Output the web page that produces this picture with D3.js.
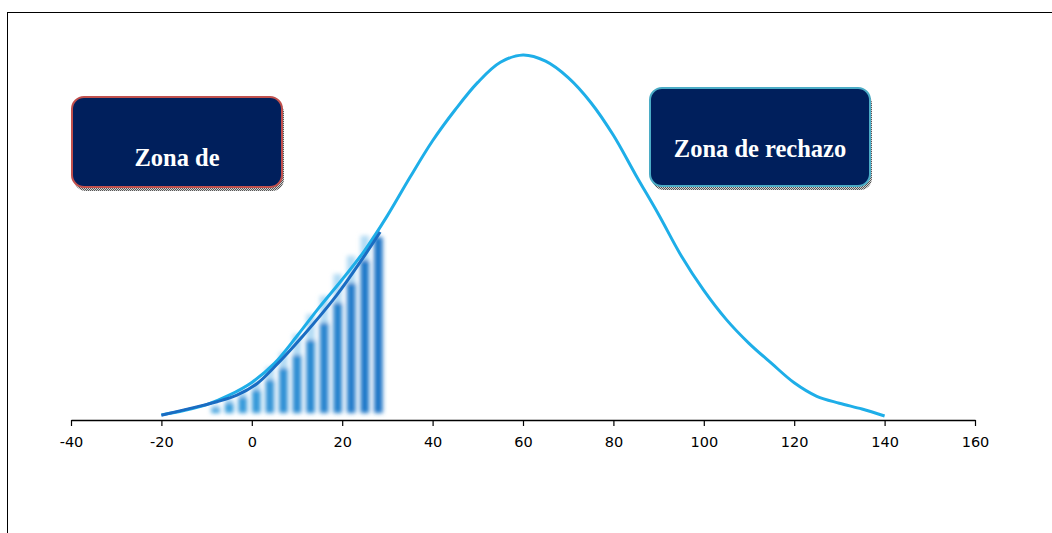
<!DOCTYPE html>
<html>
<head>
<meta charset="utf-8">
<script src="https://cdn.jsdelivr.net/npm/d3@7/dist/d3.min.js"></script>
<style>
  html, body { margin: 0; padding: 0; background: #fff; }
  svg { display: block; }
</style>
</head>
<body>
<svg id="chart" width="1052" height="533"></svg>
<script>
// ---- data ----
const xTicks = [-40, -20, 0, 20, 40, 60, 80, 100, 120, 140, 160];
const curveX = [-20, -15, -10, -5, 0, 5, 10, 15, 20, 25, 30, 35, 40, 45, 50, 55, 60, 65, 70, 75, 80, 85, 90, 95, 100, 105, 110, 115, 120, 125, 130, 135, 140];
const curveY = [1.4, 2.6, 4.2, 6.8, 10.3, 15.5, 23, 31, 38.5, 46.5, 56, 66.5, 76.5, 85, 92.5, 98, 100, 98.3, 93.8, 87, 78, 67, 56.3, 45, 35.5, 27.5, 21, 15.5, 10.2, 6.5, 4.6, 3, 1.1];
const darkX = [-20, -12.9, -7.7, -3.3, 1.2, 5, 11.3, 18.8, 24.6, 28.4];
const darkY = [1.3, 3.4, 5.0, 6.8, 10.0, 14.5, 23.0, 34.2, 44.4, 51.5];
const barX = [-8, -5, -2, 1, 4, 7, 10, 13, 16, 19, 22, 25, 28];
const barY = [3.3, 4.7, 6.3, 8.2, 11.0, 14.2, 17.8, 21.9, 26.6, 32.1, 37.5, 43.8, 50.1];
const barGhostY = [4.2, 5.8, 7.8, 10.5, 14.5, 18.5, 23.5, 29, 34, 40, 45, 50.5, 50.1];
const barBase = 1.9;
const boxLabels = ["Zona de", "Zona de rechazo"];

// ---- setup ----
const svg = d3.select("#chart");
const x = d3.scaleLinear().domain([-40, 160]).range([71, 975]);
const y = d3.scaleLinear().domain([0, 100]).range([420, 55]);

const defs = svg.append("defs");
defs.append("filter").attr("id", "blur").attr("x", "-50%").attr("y", "-10%").attr("width", "200%").attr("height", "120%")
  .append("feGaussianBlur").attr("stdDeviation", 1.9);
const pat = defs.append("pattern").attr("id", "dots").attr("width", 2).attr("height", 2).attr("patternUnits", "userSpaceOnUse");
pat.append("rect").attr("width", 2).attr("height", 2).attr("fill", "#d0d0d0");
pat.append("rect").attr("width", 1).attr("height", 1).attr("fill", "#555");
pat.append("rect").attr("x", 1).attr("y", 1).attr("width", 1).attr("height", 1).attr("fill", "#555");

// frame
svg.append("line").attr("x1", 7).attr("x2", 1052).attr("y1", 12.5).attr("y2", 12.5).attr("stroke", "#000").attr("stroke-width", 1);
svg.append("line").attr("x1", 7.5).attr("x2", 7.5).attr("y1", 12).attr("y2", 533).attr("stroke", "#000").attr("stroke-width", 1);

// bars
const bw = x(1.9) - x(0);
const barG = svg.append("g").attr("filter", "url(#blur)");
const colorScale = d3.scaleLinear().domain([0, barX.length - 1]).range(["#3aa2de", "#1b74c6"]);
barG.selectAll("rect.ghost").data(barX).join("rect").attr("class", "ghost")
  .attr("x", d => x(d) - bw / 2)
  .attr("width", bw)
  .attr("y", (d, i) => y(barGhostY[i]))
  .attr("height", (d, i) => y(barBase) - y(barGhostY[i]))
  .attr("fill", "#b3dbf4");
barG.selectAll("rect.bar").data(barX).join("rect").attr("class", "bar")
  .attr("x", d => x(d) - bw / 2)
  .attr("width", bw)
  .attr("y", (d, i) => y(barY[i]))
  .attr("height", (d, i) => y(barBase) - y(barY[i]))
  .attr("fill", (d, i) => colorScale(i));

// main curve
const line = d3.line().x(d => x(d[0])).y(d => y(d[1])).curve(d3.curveCatmullRom.alpha(0.5));
svg.append("path").datum(curveX.map((v, i) => [v, curveY[i]]))
  .attr("d", line).attr("fill", "none").attr("stroke", "#1eaee8").attr("stroke-width", 3);
// dark curve
svg.append("path").datum(darkX.map((v, i) => [v, darkY[i]]))
  .attr("d", line).attr("fill", "none").attr("stroke", "#1a6cc2").attr("stroke-width", 3);

// axis
const axis = d3.axisBottom(x).tickValues(xTicks).tickSize(6).tickSizeOuter(0).tickFormat(d3.format("d"));
const ag = svg.append("g").attr("transform", "translate(0,420)").call(axis);
ag.attr("font-size", null).attr("font-family", null);
ag.select(".domain").attr("stroke", "#000").attr("stroke-width", 1.6);
ag.selectAll(".tick line").attr("stroke", "#000").attr("stroke-width", 1.2);
ag.selectAll(".tick text")
  .attr("y", 27).attr("dy", null)
  .attr("fill", "#000")
  .style("font-family", "DejaVu Sans")
  .style("font-size", "14.5px")
  .text(d => String(d));

// boxes
const boxes = [
  { x0: 72, y0: 97, x1: 282, y1: 187, stroke: "#c0504d", tx: 177, ty: 166 },
  { x0: 650, y0: 88, x1: 870, y1: 186, stroke: "#4bacc6", tx: 760, ty: 157 }
];
boxes.forEach((b, i) => {
  svg.append("rect").attr("x", b.x0 + 2).attr("y", b.y0 + 4).attr("width", b.x1 - b.x0).attr("height", b.y1 - b.y0)
    .attr("rx", 12).attr("fill", "url(#dots)");
  svg.append("rect").attr("x", b.x0).attr("y", b.y0).attr("width", b.x1 - b.x0).attr("height", b.y1 - b.y0)
    .attr("rx", 12).attr("fill", "#001f5c").attr("stroke", b.stroke).attr("stroke-width", 2);
  svg.append("text").attr("x", b.tx).attr("y", b.ty).attr("text-anchor", "middle")
    .attr("font-family", "Liberation Serif, Times New Roman, serif").attr("font-weight", "bold")
    .attr("font-size", 24.5).attr("fill", "#fff").text(boxLabels[i]);
});
</script>
</body>
</html>
